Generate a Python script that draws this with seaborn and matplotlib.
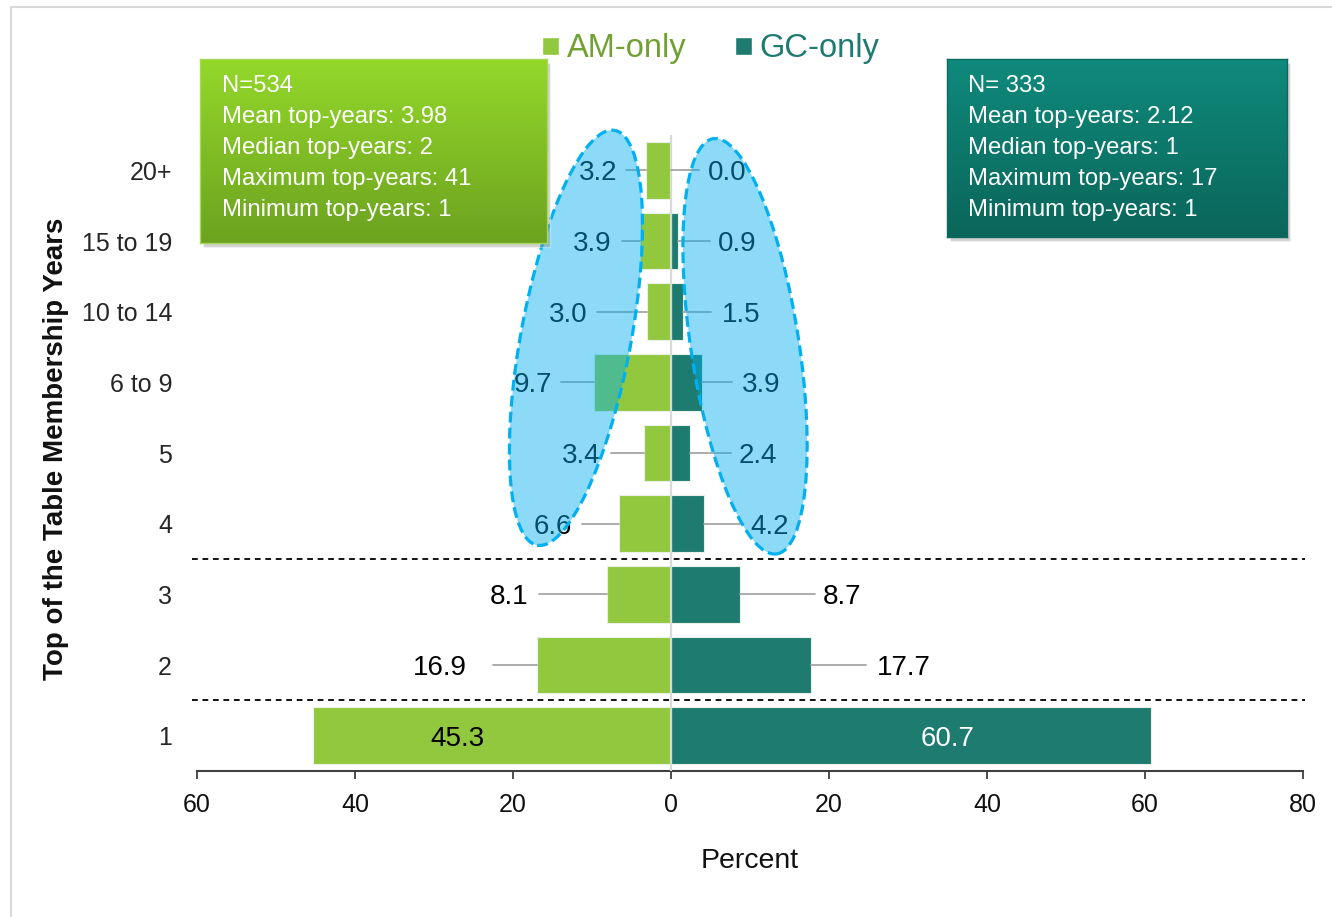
import numpy as np
import pandas as pd
import matplotlib
matplotlib.use("Agg")
import matplotlib.pyplot as plt
import seaborn as sns
from matplotlib.patches import Ellipse, Rectangle
from matplotlib.transforms import ScaledTranslation

# ---- data -------------------------------------------------------------
categories = ["20+", "15 to 19", "10 to 14", "6 to 9", "5", "4", "3", "2", "1"]
am_only = [3.2, 3.9, 3.0, 9.7, 3.4, 6.6, 8.1, 16.9, 45.3]
gc_only = [0.0, 0.9, 1.5, 3.9, 2.4, 4.2, 8.7, 17.7, 60.7]
xticks = [-60, -40, -20, 0, 20, 40, 60, 80]

am_stats = ["N=534", "Mean top-years: 3.98", "Median top-years: 2",
            "Maximum top-years: 41", "Minimum top-years: 1"]
gc_stats = ["N= 333", "Mean top-years: 2.12", "Median top-years: 1",
            "Maximum top-years: 17", "Minimum top-years: 1"]

# label placement (percent units); the last row is labelled inside the bar
am_label_x = [-6.84, -7.47, -10.63, -15.06, -8.86, -12.53, -18.1, -25.82, -27.0]
am_leader_x = [-5.70, -6.20, -9.37, -13.92, -7.59, -11.27, -16.71, -22.53, None]
gc_label_x = [4.68, 5.95, 6.46, 8.99, 8.61, 10.1, 19.24, 26.08, 35.0]
gc_leader_x = [3.54, 4.94, 5.06, 7.72, 7.59, 8.73, 18.23, 24.68, None]

# ---- style ------------------------------------------------------------
sns.set_style("white")
plt.rcParams["font.family"] = ["Liberation Sans", "DejaVu Sans"]

W, H, DPI = 1332, 917, 100
AM_COLOR = "#92C83E"
GC_COLOR = "#1E7B70"
LEADER = "#A6A6A6"

fig = plt.figure(figsize=(W / DPI, H / DPI), dpi=DPI)
ax = fig.add_axes([197 / W, 1 - 771 / H, (1303 - 197) / W, (771 - 135) / H])

df = pd.DataFrame({
    "years": categories * 2,
    "percent": [-v for v in am_only] + list(gc_only),
    "group": ["AM-only"] * len(am_only) + ["GC-only"] * len(gc_only),
})
sns.barplot(data=df, x="percent", y="years", hue="group", order=categories,
            hue_order=["AM-only", "GC-only"],
            palette={"AM-only": AM_COLOR, "GC-only": GC_COLOR},
            dodge=False, width=0.8, orient="h", saturation=1, legend=False,
            edgecolor="#E8F0E8", linewidth=0.8, ax=ax, zorder=2)

ax.set_xlim(-60, 80)
ax.set_ylim(len(categories) - 0.5, -0.5)
ax.set_xticks(xticks)
ax.set_xticklabels([str(abs(t)) for t in xticks])
ax.tick_params(axis="x", length=6, width=1.3, color="#404040", labelsize=18,
               pad=10, labelcolor="#111111", bottom=True)
ax.tick_params(axis="y", length=0, labelsize=18, pad=18, labelcolor="#262626")
for s in ("top", "right", "left"):
    ax.spines[s].set_visible(False)
ax.spines["bottom"].set_color("#404040")
ax.spines["bottom"].set_linewidth(1.5)

ax.set_xlabel("Percent", fontsize=20.5, color="#111111", fontweight="medium")
ax.xaxis.set_label_coords(0.5, -0.121)
ax.set_ylabel("Top of the Table Membership Years", fontsize=20,
              fontweight="bold", color="#111111")
ax.yaxis.set_label_coords(-0.116, 0.506)

# centre reference line
ax.axvline(0, color="#D9D9D9", lw=1.6, zorder=3)

# group separators
for yy in (5.5, 7.5):
    ax.plot([-60.6, 80.2], [yy, yy], color="black", lw=1.3,
            linestyle=(0, (3.2, 2.6)), clip_on=False, zorder=3)

# ---- value labels -----------------------------------------------------
LBL = dict(fontsize=20, va="center_baseline", zorder=5)
for i, (a, g) in enumerate(zip(am_only, gc_only)):
    if am_leader_x[i] is None:
        ax.text(am_label_x[i], i, f"{a:.1f}", ha="center", color="black", **LBL)
    else:
        ax.plot([am_leader_x[i], -a], [i, i], color=LEADER, lw=1.3, zorder=4)
        ax.text(am_label_x[i], i, f"{a:.1f}", ha="right", color="black", **LBL)
    if gc_leader_x[i] is None:
        ax.text(gc_label_x[i], i, f"{g:.1f}", ha="center", color="white", **LBL)
    else:
        ax.plot([g, gc_leader_x[i]], [i, i], color=LEADER, lw=1.3, zorder=4)
        ax.text(gc_label_x[i], i, f"{g:.1f}", ha="left", color="black", **LBL)


# ---- highlight ellipses (sized in pixels, anchored in data space) -----
def add_ellipse(cx, cy, w_px, h_px, angle):
    tr = fig.dpi_scale_trans + ScaledTranslation(cx, cy, ax.transData)
    e = Ellipse((0, 0), w_px / DPI, h_px / DPI, angle=angle, transform=tr,
                facecolor=(0.0, 0.686, 0.937, 0.45), edgecolor="#00B0F0",
                lw=2.3, linestyle=(0, (3.4, 1.6)), zorder=6, clip_on=False)
    ax.add_artist(e)


add_ellipse(-12.03, 2.37, 110, 422, -10.6)
add_ellipse(9.37, 2.49, 108, 420, 8.7)


# ---- summary boxes ----------------------------------------------------
def stat_box(x0, y0, x1, y1, top_rgb, bottom_rgb, edge, lines, tx):
    shadow = Rectangle(((x0 + 3) / W, 1 - (y1 + 4) / H), (x1 - x0) / W,
                       (y1 - y0) / H, transform=fig.transFigure,
                       facecolor="#7F7F7F", alpha=0.35, zorder=1)
    fig.patches.append(shadow)
    bax = fig.add_axes([x0 / W, 1 - y1 / H, (x1 - x0) / W, (y1 - y0) / H])
    bax.set_zorder(2)
    t = np.linspace(0, 1, 256)[:, None, None]
    img = (np.array(top_rgb)[None, None, :] * (1 - t)
           + np.array(bottom_rgb)[None, None, :] * t) / 255.0
    bax.imshow(img, aspect="auto", extent=[0, 1, 0, 1], origin="upper")
    bax.set_xticks([])
    bax.set_yticks([])
    for sp in bax.spines.values():
        sp.set_color(edge)
        sp.set_linewidth(1.0)
    for k, s in enumerate(lines):
        fig.text(tx / W, 1 - (83 + 31.2 * k) / H, s, ha="left",
                 va="center_baseline", fontsize=17.2, color="white", zorder=5)


stat_box(200, 59, 547, 243, (148, 216, 42), (108, 162, 32), "#A5D85A",
         am_stats, 222)
stat_box(947, 59, 1287, 237, (15, 138, 124), (10, 102, 90), "#0B6A5E",
         gc_stats, 968)

# ---- legend -----------------------------------------------------------
handles = [Rectangle((0, 0), 1, 1, facecolor=AM_COLOR),
           Rectangle((0, 0), 1, 1, facecolor=GC_COLOR)]
leg = fig.legend(handles, ["AM-only", "GC-only"], loc="center",
                 bbox_to_anchor=(711 / W, 1 - 49 / H), ncol=2, frameon=False,
                 fontsize=23.5, handlelength=0.5, handleheight=0.5,
                 handletextpad=0.25, columnspacing=1.5)
leg.get_texts()[0].set_color("#70A132")
leg.get_texts()[1].set_color("#1F7A72")

# outer frame
fig.patches.append(Rectangle((11 / W, -0.05), 1.1, 1.05 - 7 / H,
                             transform=fig.transFigure, facecolor="none",
                             edgecolor="#D9D9D9", lw=1.5, zorder=0))

fig.savefig("out.png", dpi=DPI)
